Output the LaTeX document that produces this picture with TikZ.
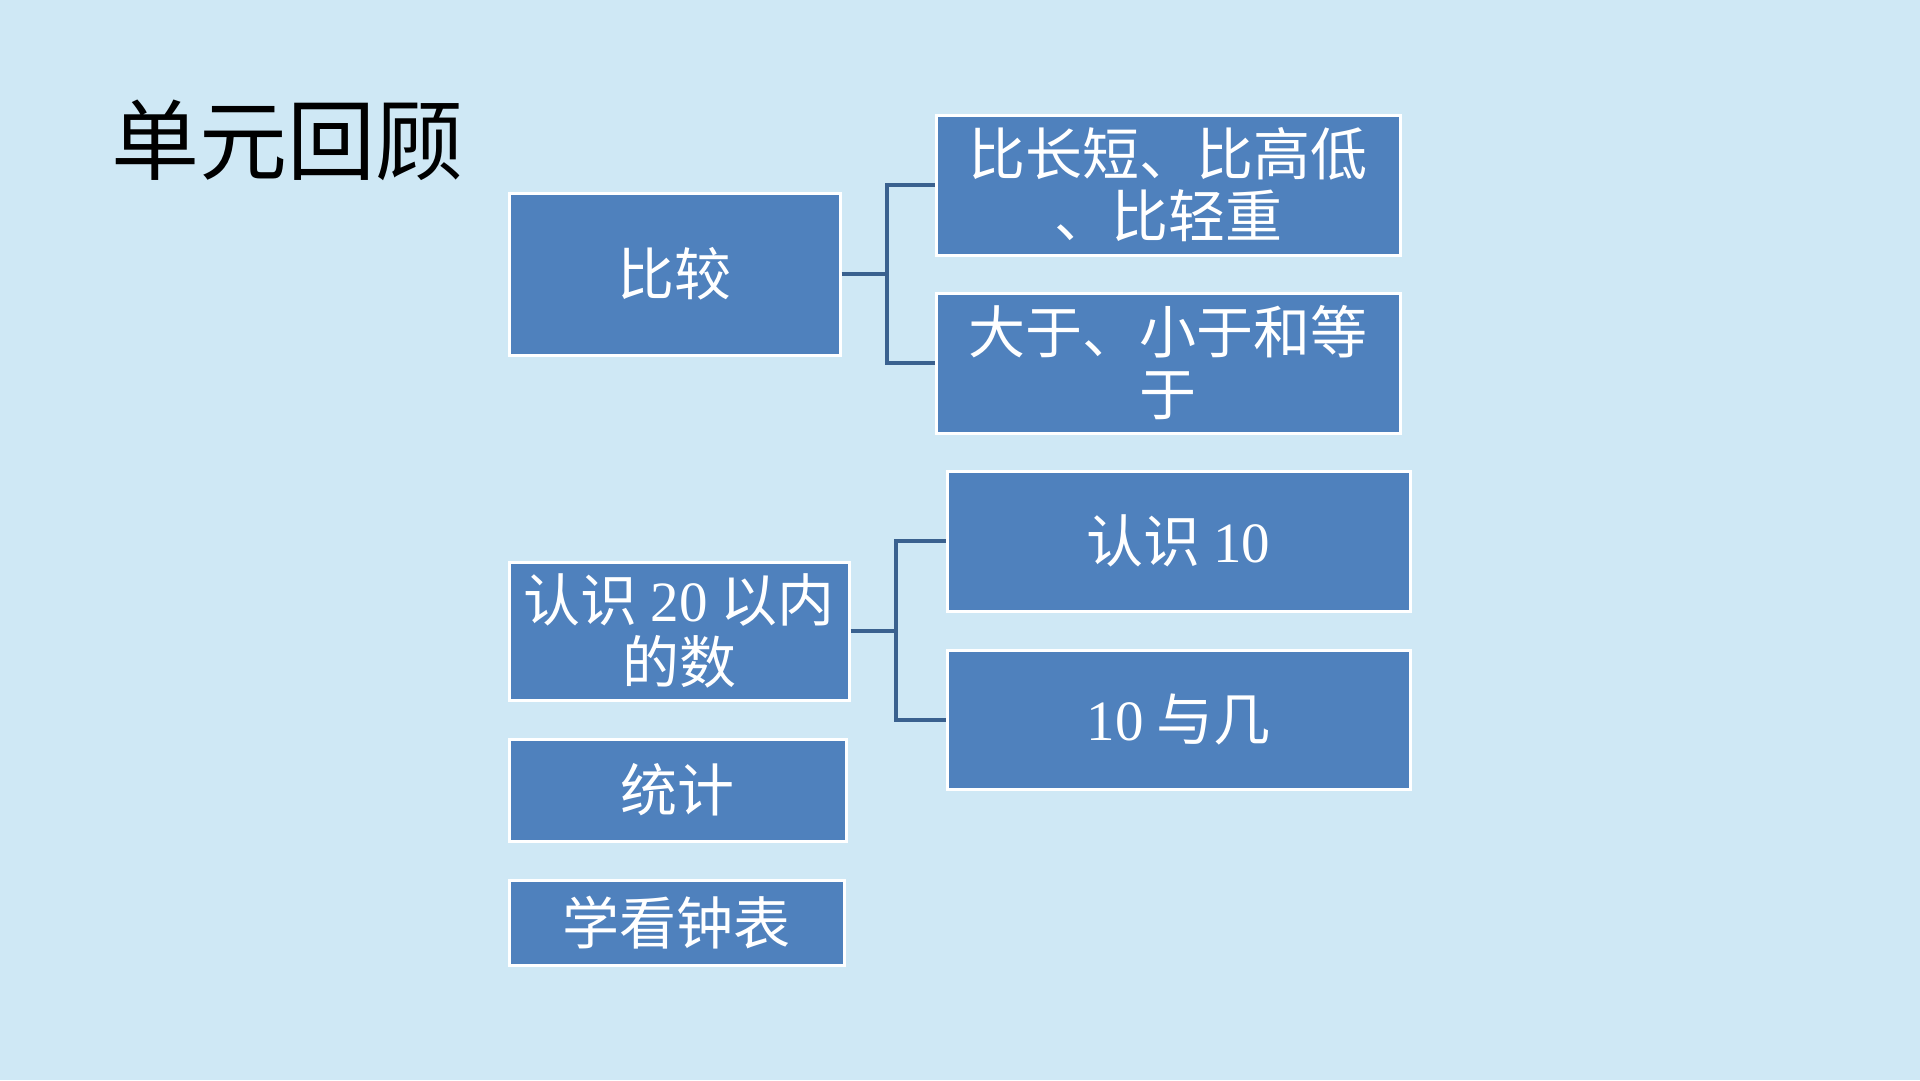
\documentclass[tikz,border=0pt]{standalone}
\usepackage{fontspec}
\setmainfont{Liberation Serif}
\newfontfamily\cjk{Noto Sans CJK SC}
\newfontfamily\numf{Liberation Serif}
\definecolor{bg}{HTML}{CFE8F5}
\definecolor{boxblue}{HTML}{4F81BD}
\definecolor{linkblue}{HTML}{3A618F}
\tikzset{
  box/.style={draw=white, line width=3pt, fill=boxblue, text=white, align=center, inner sep=0pt,
    font=\cjk\fontsize{57}{62}\selectfont},
  conn/.style={draw=linkblue, line width=4pt},
}
\begin{document}
\begin{tikzpicture}[x=1pt,y=-1pt]
\fill[bg] (0,0) rectangle (1920,1080);
\useasboundingbox (0,0) rectangle (1920,1080);
\node[anchor=west, inner sep=0pt, font=\cjk\fontsize{88}{96}\selectfont] (title) at (111,140) {单元回顾};
\node[box, minimum width=331pt, minimum height=162pt] (bijiao) at (674.5,274) {比较};
\node[box, minimum width=464pt, minimum height=140pt] (bichang) at (1168,185) {比长短、比高低\\、比轻重};
\node[box, minimum width=464pt, minimum height=140pt] (dayu) at (1168,363) {大于、小于和等\\于};
\node[box, minimum width=340pt, minimum height=138pt] (renshi20) at (679,631) {认识 {\numf 20} 以内\\的数};
\node[box, minimum width=463pt, minimum height=140pt] (renshi10) at (1178.5,541) {认识 {\numf 10}};
\node[box, minimum width=463pt, minimum height=139pt] (yuji) at (1178.5,719.5) {{\numf 10} 与几};
\node[box, minimum width=337pt, minimum height=102pt] (tongji) at (677.5,790) {统计};
\node[box, minimum width=335pt, minimum height=85pt] (zhongbiao) at (676.5,922.5) {学看钟表};
\coordinate (j1) at (887,274);
\coordinate (j2) at (896,631);
\draw[conn] (bijiao.east) -- (j1);
\draw[conn] (bichang.west) -| (j1) |- (dayu.west);
\draw[conn] (renshi20.east) -- (j2);
\draw[conn] (renshi10.west) -| (j2) |- (yuji.west);
\end{tikzpicture}
\end{document}
